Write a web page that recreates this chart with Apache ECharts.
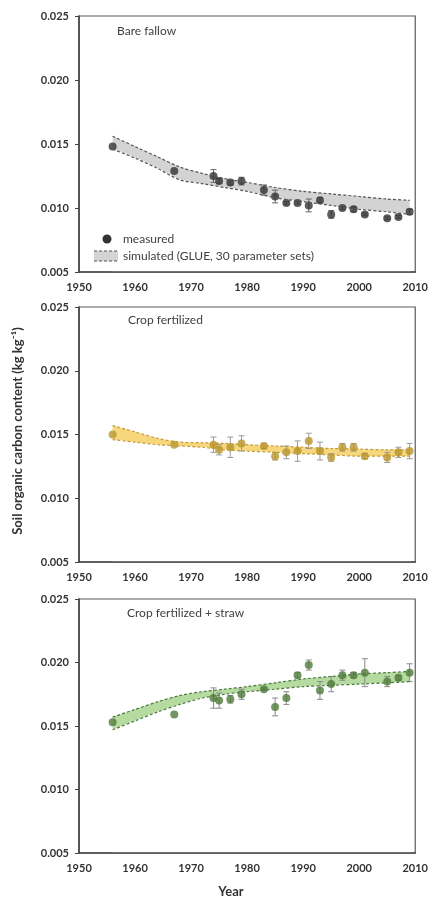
<!DOCTYPE html>
<html>
<head>
<meta charset="utf-8">
<script src="https://cdn.jsdelivr.net/npm/echarts@6/dist/echarts.min.js"></script>
<style>
html,body{margin:0;padding:0;background:#fff;}
#chart{width:431px;height:898px;}
</style>
</head>
<body>
<div id="chart"></div>
<script>
// ---------- data ----------
const xTicks = [1950, 1960, 1970, 1980, 1990, 2000, 2010];
const yTicks = [0.005, 0.010, 0.015, 0.020, 0.025];
const panelTitles = ['Bare fallow', 'Crop fertilized', 'Crop fertilized + straw'];

const measYears = [1956,1967,1974,1975,1977,1979,1983,1985,1987,1989,1991,1993,1995,1997,1999,2001,2005,2007,2009];

const bareSoc  = [0.0148,0.0129,0.0125,0.0121,0.0120,0.0121,0.0114,0.0109,0.0104,0.0104,0.0102,0.0106,0.0095,0.0100,0.0099,0.0095,0.0092,0.0093,0.0097];
const bareErr  = [0,0,0.0005,0.0002,0.0002,0.0003,0.0004,0.0005,0.0001,0.0001,0.0005,0.0002,0.0003,0.0001,0.0002,0.0001,0.0001,0.0001,0.0002];

const cropSoc  = [0.0150,0.0142,0.0142,0.0138,0.0140,0.0143,0.0141,0.0133,0.0136,0.0137,0.0145,0.0137,0.0132,0.0140,0.0140,0.0133,0.0132,0.0136,0.0137];
const cropErr  = [0,0,0.0006,0.0004,0.0008,0.0006,0.0002,0.0003,0.0005,0.0008,0.0006,0.0007,0.0003,0.0003,0.0003,0.0002,0.0004,0.0004,0.0006];

const strawSoc = [0.0153,0.0159,0.0172,0.0170,0.0171,0.0175,0.0179,0.0165,0.0172,0.0190,0.0198,0.0178,0.0183,0.0190,0.0190,0.0192,0.0185,0.0188,0.0192];
const strawErr = [0,0,0.0008,0.0006,0.0003,0.0004,0.0001,0.0007,0.0005,0.0002,0.0004,0.0007,0.0006,0.0004,0.0002,0.0011,0.0004,0.0002,0.0007];

const bandYears = [1956,1960,1964,1968,1972,1976,1980,1985,1990,1995,2000,2005,2009];
const bareUpper  = [0.0156,0.0148,0.0140,0.0132,0.0127,0.0123,0.0120,0.0116,0.0113,0.0111,0.0109,0.0107,0.0106];
const bareLower  = [0.0146,0.0139,0.0131,0.0122,0.0119,0.0116,0.0113,0.0108,0.0105,0.0102,0.0099,0.0097,0.0095];
const cropUpper  = [0.0157,0.0152,0.0147,0.0144,0.01435,0.0143,0.0142,0.0141,0.0140,0.0139,0.01385,0.0138,0.0138];
const cropLower  = [0.0146,0.0144,0.0142,0.0141,0.0140,0.0138,0.0137,0.0136,0.0135,0.0134,0.0133,0.0133,0.0133];
const strawUpper = [0.0157,0.0163,0.0169,0.0174,0.0177,0.0179,0.0181,0.0184,0.0187,0.0189,0.0191,0.0192,0.0193];
const strawLower = [0.0147,0.0154,0.0161,0.0167,0.0172,0.0175,0.0177,0.0179,0.0181,0.0182,0.0183,0.0184,0.0185];

// ---------- styles ----------
const FONT = 'Lato, "Open Sans", sans-serif';
const panels = [
  {soc: bareSoc,  err: bareErr,  up: bareUpper,  lo: bareLower,  dot:'#333333', errC:'#666666', fill:'#d3d3d3', dash:'#555555'},
  {soc: cropSoc,  err: cropErr,  up: cropUpper,  lo: cropLower,  dot:'#b8952a', errC:'#9a9a9a', fill:'#f7d77c', dash:'#c49a3a'},
  {soc: strawSoc, err: strawErr, up: strawUpper, lo: strawLower, dot:'#4f7a3a', errC:'#8a8a8a', fill:'#b5dba0', dash:'#4e7a3e'}
];
const grids = [
  {left:79, right:14, top:16,  height:256},
  {left:79, right:14, top:307, height:255},
  {left:79, right:14, top:599, height:254}
];

const grid = [], xAxis = [], yAxis = [], series = [];
panels.forEach((p, i) => {
  grid.push(Object.assign({show:true, borderColor:'#5a5a5a', borderWidth:1.2, backgroundColor:'#fff', z:0}, grids[i]));
  xAxis.push({
    gridIndex:i, type:'value', min:xTicks[0], max:xTicks[xTicks.length-1], interval:10, z:10,
    axisLine:{show:true, lineStyle:{color:'#444', width:1.6}},
    axisTick:{show:false}, splitLine:{show:false},
    axisLabel:{color:'#333', fontSize:11, fontWeight:'bold', fontFamily:FONT, margin:10,
      formatter: v => String(v)}
  });
  yAxis.push({
    gridIndex:i, type:'value', min:yTicks[0], max:yTicks[yTicks.length-1], interval:0.005, z:10,
    axisLine:{show:true, lineStyle:{color:'#444', width:1.6}},
    axisTick:{show:true, inside:false, length:4, lineStyle:{color:'#444'}},
    splitLine:{show:false},
    axisLabel:{color:'#333', fontSize:11, fontWeight:'bold', fontFamily:FONT, margin:10,
      formatter: v => v.toFixed(3)}
  });
  const lowData = bandYears.map((y, k) => [y, p.lo[k]]);
  const upData = bandYears.map((y, k) => [y, p.up[k]]);
  // simulated band: coloured area under upper bound, white area under lower bound
  series.push({
    type:'line', xAxisIndex:i, yAxisIndex:i, smooth:0.3, symbol:'none', z:1, silent:true,
    lineStyle:{width:0, opacity:0}, areaStyle:{color:p.fill, opacity:1, origin:'start'}, data: upData
  });
  [-1.5, 1.5].forEach(off => series.push({
    type:'line', xAxisIndex:i, yAxisIndex:i, smooth:0.3, symbol:'none', z:1, silent:true,
    lineStyle:{width:0, opacity:0},
    areaStyle:{color:'#ffffff', opacity:1, origin:'start', shadowColor:'#ffffff', shadowBlur:0, shadowOffsetX:off},
    data: lowData
  }));
  // error bars
  series.push({
    type:'custom', xAxisIndex:i, yAxisIndex:i, z:3, silent:true,
    data: measYears.map((y, k) => [y, p.soc[k] - p.err[k], p.soc[k] + p.err[k]]).filter(d => d[2] - d[1] > 0),
    renderItem: (params, api) => {
      const x = api.value(0);
      const a = api.coord([x, api.value(1)]);
      const b = api.coord([x, api.value(2)]);
      const w = 3;
      const st = {stroke:p.errC, lineWidth:1};
      return {type:'group', children:[
        {type:'line', shape:{x1:a[0], y1:a[1], x2:b[0], y2:b[1]}, style:st},
        {type:'line', shape:{x1:a[0]-w, y1:a[1], x2:a[0]+w, y2:a[1]}, style:st},
        {type:'line', shape:{x1:b[0]-w, y1:b[1], x2:b[0]+w, y2:b[1]}, style:st}
      ]};
    }
  });
  // measured points
  series.push({
    type:'scatter', xAxisIndex:i, yAxisIndex:i, z:4, symbol:'circle', symbolSize:8,
    itemStyle:{color:p.dot}, data: measYears.map((y, k) => [y, p.soc[k]])
  });
  // dashed bounds
  [upData, lowData].forEach(d => series.push({
    type:'line', xAxisIndex:i, yAxisIndex:i, smooth:0.3, symbol:'none', z:5,
    lineStyle:{color:p.dash, width:1.2, type:[3,2]}, data:d
  }));
});

const txt = (x, y, text, extra) => ({
  type:'text', x:x, y:y, z:100,
  style:Object.assign({text:text, fill:'#404040', font:'12px ' + FONT, textVerticalAlign:'middle'}, extra || {})
});

const graphic = [
  txt(117, 31, panelTitles[0]),
  txt(128, 320, panelTitles[1]),
  txt(127, 613, panelTitles[2]),
  // legend
  {type:'circle', z:100, shape:{cx:107, cy:239, r:4.5}, style:{fill:'#333'}},
  txt(123, 239, 'measured'),
  {type:'rect', z:100, shape:{x:94, y:251, width:24, height:10}, style:{fill:'#d4d4d4'}},
  {type:'line', z:101, shape:{x1:94, y1:251, x2:118, y2:251}, style:{stroke:'#555', lineWidth:1, lineDash:[3,2]}},
  {type:'line', z:101, shape:{x1:94, y1:261, x2:118, y2:261}, style:{stroke:'#555', lineWidth:1, lineDash:[3,2]}},
  txt(123, 256, 'simulated (GLUE, 30 parameter sets)'),
  // axis titles
  {type:'text', x:18, y:431, rotation:Math.PI/2, z:100,
    style:{text:'Soil organic carbon content (kg kg\u207B\u00B9)', fill:'#333', font:'bold 13px ' + FONT,
      textAlign:'center', textVerticalAlign:'middle'}},
  {type:'text', x:231, y:892, z:100,
    style:{text:'Year', fill:'#333', font:'bold 13px ' + FONT, textAlign:'center', textVerticalAlign:'middle'}}
];

const chart = echarts.init(document.getElementById('chart'), null, {renderer:'canvas'});
chart.setOption({
  animation:false, backgroundColor:'#fff',
  grid:grid, xAxis:xAxis, yAxis:yAxis, series:series, graphic:graphic
});
</script>
</body>
</html>
